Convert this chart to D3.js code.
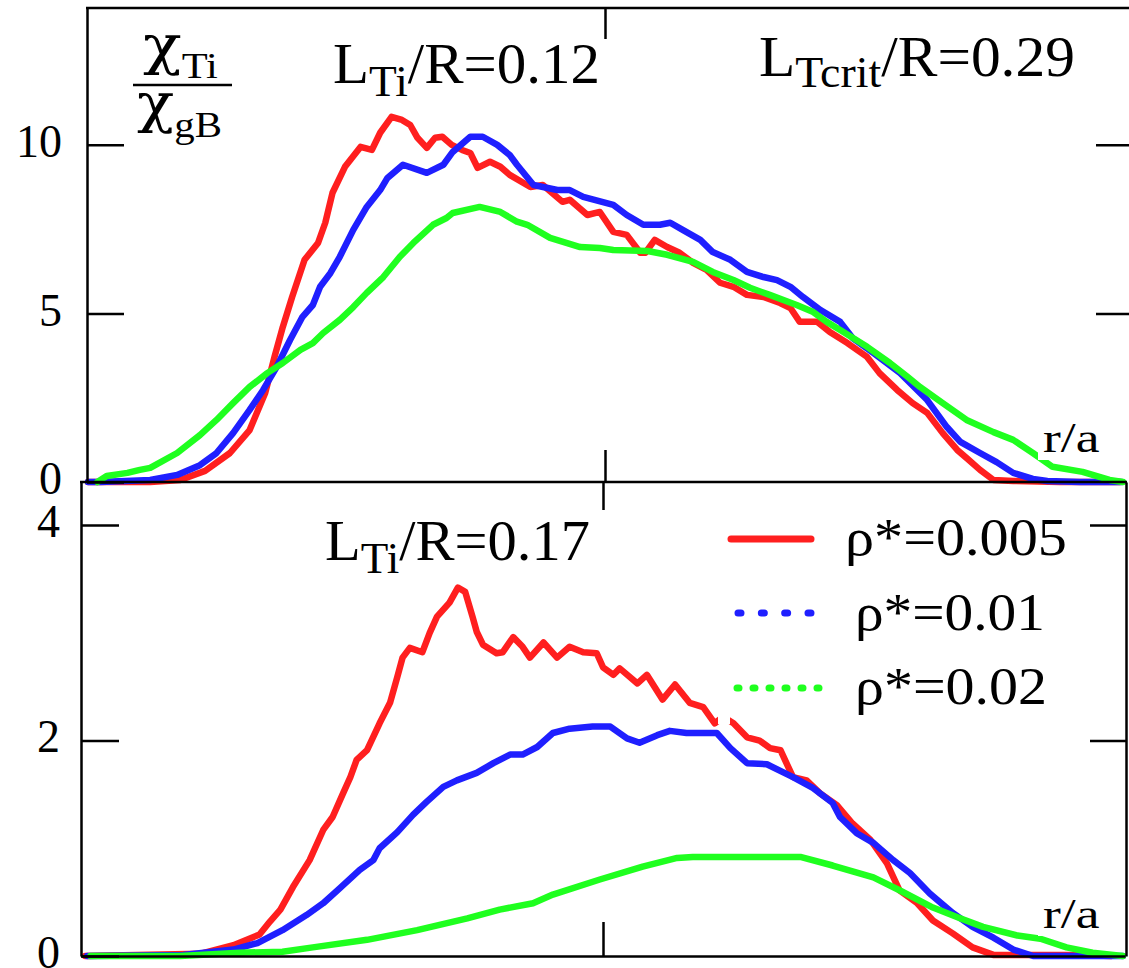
<!DOCTYPE html>
<html>
<head>
<meta charset="utf-8">
<script src="https://cdn.jsdelivr.net/npm/d3@7"></script>
<style>
  body { margin: 0; background: #fff; }
  text { font-family: "Liberation Serif", "Times New Roman", serif; fill: #000; }
</style>
</head>
<body>
<div id="chart"></div>
<script>
// ---- data: [r/a, chi_Ti/chi_gB] ----
// upper panel, L_Ti/R = 0.12
const topRed = [[0.001,0],[0.061,0],[0.090,0.06],[0.114,0.33],[0.138,0.86],[0.157,1.54],[0.172,2.64],[0.181,3.71],[0.189,4.60],[0.198,5.49],[0.210,6.59],[0.223,7.09],[0.230,7.69],[0.237,8.58],[0.249,9.35],[0.264,9.94],[0.275,9.85],[0.283,10.36],[0.294,10.83],[0.304,10.74],[0.312,10.59],[0.319,10.21],[0.328,9.91],[0.336,10.21],[0.343,10.24],[0.352,10.00],[0.362,9.85],[0.370,9.76],[0.377,9.32],[0.389,9.50],[0.399,9.35],[0.408,9.11],[0.428,8.75],[0.440,8.81],[0.459,8.31],[0.466,8.37],[0.483,7.92],[0.495,8.01],[0.508,7.42],[0.521,7.33],[0.534,6.80],[0.539,6.80],[0.548,7.18],[0.560,6.97],[0.572,6.80],[0.585,6.50],[0.598,6.29],[0.611,5.91],[0.624,5.79],[0.637,5.55],[0.653,5.49],[0.669,5.31],[0.679,5.16],[0.688,4.75],[0.705,4.75],[0.717,4.45],[0.734,4.12],[0.753,3.71],[0.765,3.23],[0.782,2.73],[0.797,2.34],[0.811,2.05],[0.826,1.45],[0.840,0.95],[0.849,0.71],[0.862,0.36],[0.875,0.06],[0.894,0.03],[0.939,0],[0.997,0]];
const topBlue = [[0.001,0],[0.013,0],[0.061,0.06],[0.087,0.21],[0.109,0.50],[0.125,0.86],[0.141,1.45],[0.157,2.14],[0.170,2.73],[0.183,3.41],[0.196,4.21],[0.208,4.90],[0.218,5.25],[0.225,5.79],[0.235,6.20],[0.244,6.68],[0.257,7.48],[0.270,8.16],[0.283,8.66],[0.290,9.02],[0.305,9.41],[0.328,9.17],[0.344,9.41],[0.353,9.79],[0.370,10.24],[0.382,10.24],[0.396,10.00],[0.408,9.70],[0.415,9.41],[0.431,8.81],[0.454,8.66],[0.466,8.66],[0.479,8.46],[0.508,8.22],[0.521,7.92],[0.537,7.63],[0.553,7.63],[0.563,7.69],[0.575,7.48],[0.592,7.18],[0.604,6.82],[0.621,6.59],[0.637,6.23],[0.653,6.08],[0.666,5.99],[0.679,5.79],[0.691,5.49],[0.708,5.10],[0.727,4.75],[0.739,4.27],[0.759,3.83],[0.785,3.23],[0.811,2.43],[0.830,1.63],[0.843,1.19],[0.862,0.86],[0.878,0.59],[0.894,0.27],[0.913,0.09],[0.927,0.03],[0.958,0],[0.999,0]];
const topGreen = [[0.010,0],[0.019,0.18],[0.039,0.27],[0.051,0.36],[0.061,0.42],[0.087,0.86],[0.109,1.39],[0.125,1.84],[0.141,2.34],[0.157,2.82],[0.174,3.23],[0.189,3.53],[0.206,3.92],[0.218,4.12],[0.228,4.42],[0.244,4.81],[0.257,5.19],[0.270,5.61],[0.286,6.08],[0.302,6.68],[0.315,7.09],[0.334,7.63],[0.347,7.83],[0.353,7.98],[0.379,8.16],[0.399,8.01],[0.415,7.72],[0.425,7.63],[0.447,7.24],[0.476,6.97],[0.495,6.94],[0.508,6.88],[0.541,6.85],[0.560,6.74],[0.585,6.53],[0.604,6.23],[0.624,5.99],[0.640,5.76],[0.659,5.55],[0.685,5.25],[0.701,5.04],[0.714,4.75],[0.727,4.51],[0.753,4.01],[0.775,3.53],[0.792,3.12],[0.804,2.82],[0.826,2.34],[0.849,1.84],[0.875,1.48],[0.894,1.25],[0.913,0.86],[0.932,0.45],[0.961,0.30],[0.987,0.06],[1.000,0]];

// lower panel, L_Ti/R = 0.17
const botRed = [[0.004,0],[0.114,0.02],[0.146,0.10],[0.171,0.20],[0.181,0.32],[0.191,0.43],[0.203,0.64],[0.219,0.89],[0.232,1.17],[0.241,1.29],[0.251,1.51],[0.258,1.66],[0.264,1.82],[0.274,1.91],[0.286,2.16],[0.296,2.35],[0.303,2.59],[0.308,2.77],[0.315,2.86],[0.327,2.82],[0.334,3.00],[0.341,3.15],[0.353,3.28],[0.361,3.42],[0.368,3.38],[0.375,3.15],[0.379,3.01],[0.385,2.89],[0.398,2.81],[0.404,2.82],[0.414,2.96],[0.423,2.87],[0.430,2.77],[0.443,2.91],[0.456,2.77],[0.468,2.87],[0.481,2.82],[0.494,2.81],[0.500,2.68],[0.510,2.61],[0.516,2.67],[0.533,2.53],[0.542,2.61],[0.557,2.38],[0.569,2.52],[0.583,2.35],[0.596,2.31],[0.607,2.16],[0.615,2.22],[0.625,2.16],[0.638,2.03],[0.650,2.00],[0.660,1.93],[0.670,1.91],[0.682,1.66],[0.695,1.63],[0.708,1.51],[0.724,1.40],[0.739,1.23],[0.756,1.08],[0.772,0.86],[0.784,0.61],[0.801,0.49],[0.816,0.33],[0.835,0.21],[0.854,0.08],[0.874,0.01],[0.960,0.01],[0.986,0]];
const botBlue = [[0.006,0],[0.098,0.01],[0.146,0.06],[0.169,0.12],[0.193,0.24],[0.216,0.38],[0.232,0.49],[0.248,0.63],[0.267,0.80],[0.280,0.89],[0.286,1.00],[0.303,1.15],[0.318,1.31],[0.331,1.43],[0.347,1.57],[0.360,1.63],[0.379,1.70],[0.395,1.79],[0.411,1.87],[0.423,1.87],[0.437,1.94],[0.452,2.07],[0.468,2.11],[0.490,2.13],[0.507,2.13],[0.523,2.02],[0.535,1.98],[0.552,2.05],[0.564,2.09],[0.580,2.07],[0.609,2.07],[0.622,1.93],[0.638,1.79],[0.657,1.78],[0.682,1.66],[0.701,1.56],[0.720,1.42],[0.727,1.29],[0.743,1.14],[0.759,1.05],[0.778,0.89],[0.794,0.77],[0.813,0.58],[0.835,0.40],[0.854,0.27],[0.874,0.17],[0.893,0.06],[0.912,0],[0.998,0]];
const botGreen = [[0.009,0],[0.095,0],[0.152,0.03],[0.193,0.04],[0.222,0.08],[0.274,0.15],[0.322,0.24],[0.370,0.35],[0.401,0.43],[0.433,0.49],[0.452,0.57],[0.497,0.71],[0.538,0.83],[0.571,0.91],[0.586,0.92],[0.689,0.92],[0.720,0.84],[0.759,0.73],[0.784,0.61],[0.816,0.45],[0.842,0.35],[0.864,0.27],[0.897,0.19],[0.919,0.16],[0.944,0.08],[0.969,0.03],[0.998,0]];

const topTicks = [0, 5, 10];
const botTicks = [0, 2, 4];
const legendLabels = ["ρ*=0.005", "ρ*=0.01", "ρ*=0.02"];
const colors = ["#ff1f1f", "#1f1fff", "#1fff1f"];

// ---- setup ----
const width = 1129, height = 968;
const svg = d3.select("#chart").append("svg")
    .attr("width", width)
    .attr("height", height);

const xTop = d3.scaleLinear().domain([0, 1]).range([87, 1123]);
const yTop = d3.scaleLinear().domain([0, 14.06]).range([482, 8]);
const xBot = d3.scaleLinear().domain([0, 1]).range([81, 1125]);
const yBot = d3.scaleLinear().domain([0, 4.4]).range([956, 482]);

// stretch a text horizontally so it spans a given width
function fit(sel, x0, w) {
    const bb = sel.node().getBBox();
    const s = w / bb.width;
    sel.attr("transform", `translate(${x0},0) scale(${s},1) translate(${-x0},0)`);
}

function styleAxis(g, fs) {
    g.selectAll("path, line").attr("stroke", "#000").attr("stroke-width", 2.5);
    g.selectAll("text").attr("font-size", fs).attr("font-family", "Liberation Serif").attr("fill", "#000");
}

// ---- curves ----
function drawCurves(series, x, y) {
    const line = d3.line().x(d => x(d[0])).y(d => y(d[1]));
    series.forEach((s, i) => {
        svg.append("path")
            .datum(s)
            .attr("fill", "none")
            .attr("stroke", colors[i])
            .attr("stroke-width", 6.5)
            .attr("stroke-linejoin", "round")
            .attr("stroke-linecap", "round")
            .attr("d", line);
    });
}
drawCurves([topRed, topBlue, topGreen], xTop, yTop);
drawCurves([botRed, botBlue, botGreen], xBot, yBot);

// small white break in the lower red curve, as in the original
svg.append("rect").attr("x", 718).attr("y", 698).attr("width", 12).attr("height", 26).attr("fill", "#fff");

// ---- axes / frames ----
// upper panel
svg.append("g").attr("transform", "translate(87,0)")
    .call(d3.axisLeft(yTop).tickValues(topTicks).tickSize(-37).tickSizeOuter(0).tickPadding(25).tickFormat(d3.format("d")))
    .call(g => styleAxis(g, 46))
    .call(g => g.selectAll("text").attr("dy", "0.26em"));
svg.append("g").attr("transform", "translate(1129,0)")
    .call(d3.axisRight(yTop).tickValues([5, 10]).tickSize(-33).tickFormat(""))
    .call(g => g.select(".domain").remove())
    .call(g => styleAxis(g, 46));
svg.append("g").attr("transform", "translate(0,8)")
    .call(d3.axisTop(xTop).tickValues([0.5]).tickSize(-31).tickFormat(""))
    .call(g => g.select(".domain").remove())
    .call(g => styleAxis(g, 46));
svg.append("g").attr("transform", "translate(0,482)")
    .call(d3.axisBottom(xTop).tickValues([0.5]).tickSize(-32).tickFormat(""))
    .call(g => g.select(".domain").remove())
    .call(g => styleAxis(g, 46));
svg.append("line").attr("x1", 86).attr("x2", 1129).attr("y1", 8).attr("y2", 8)
    .attr("stroke", "#000").attr("stroke-width", 2.5);

// lower panel
svg.append("g").attr("transform", "translate(81,0)")
    .call(d3.axisLeft(yBot).tickValues(botTicks).tickSize(-38).tickSizeOuter(0).tickPadding(21).tickFormat(d3.format("d")))
    .call(g => styleAxis(g, 46))
    .call(g => g.selectAll("text").attr("dy", "0.24em"));
svg.append("g").attr("transform", "translate(1126,0)")
    .call(d3.axisRight(yBot).tickValues([2, 4]).tickSize(-36).tickSizeOuter(0).tickFormat(""))
    .call(g => styleAxis(g, 46));
svg.append("g").attr("transform", "translate(0,956)")
    .call(d3.axisBottom(xBot).tickValues([0.5]).tickSize(-34).tickSizeOuter(0).tickFormat(""))
    .call(g => styleAxis(g, 46));
svg.append("g").attr("transform", "translate(0,482)")
    .call(d3.axisTop(xBot).tickValues([0.5]).tickSize(-28).tickFormat(""))
    .call(g => g.select(".domain").remove())
    .call(g => styleAxis(g, 46));
svg.append("line").attr("x1", 80).attr("x2", 1127).attr("y1", 482).attr("y2", 482)
    .attr("stroke", "#000").attr("stroke-width", 2.5);

// ---- r/a labels with white backing ----
[[420, 452], [896, 928]].forEach(([top, base]) => {
    svg.append("rect").attr("x", 1038).attr("y", top).attr("width", 68).attr("height", base - top + 8)
        .attr("fill", "#fff");
    const t = svg.append("text").attr("x", 1043).attr("y", base).attr("font-size", 42).text("r/a");
    fit(t, 1043, 57);
});

// ---- annotations ----
function subLabel(x, y, main, sub, rest, fs, sfs, dy, w, mainFont) {
    const t = svg.append("text").attr("x", x).attr("y", y).attr("font-size", fs);
    const m = t.append("tspan").text(main);
    if (mainFont) m.attr("font-family", mainFont);
    t.append("tspan").attr("font-size", sfs).attr("dy", dy).text(sub);
    if (rest) t.append("tspan").attr("dy", -dy).text(rest);
    fit(t, x, w);
    return t;
}
subLabel(333, 83, "L", "Ti", "/R=0.12", 57, 44, 13, 267);
subLabel(759, 76, "L", "Tcrit", "/R=0.29", 57, 44, 11, 316);
subLabel(325, 560, "L", "Ti", "/R=0.17", 57, 44, 13, 265);

// y label chi_Ti / chi_gB
subLabel(143, 64, "χ", "Ti", null, 54, 36, 14, 75, "DejaVu Serif");
subLabel(137, 122, "χ", "gB", null, 54, 36, 15, 85, "DejaVu Serif");
svg.append("line").attr("x1", 133).attr("x2", 232).attr("y1", 85).attr("y2", 85)
    .attr("stroke", "#000").attr("stroke-width", 2.5);

// ---- legend ----
const legendRows = [
    { y: 539, x1: 731, x2: 811, dash: null, tx: 845, ty: 555, tw: 222 },
    { y: 613, x1: 738, x2: 811, dash: "3 20.33", tx: 855, ty: 630, tw: 190 },
    { y: 688, x1: 737, x2: 819, dash: "2 14", tx: 855, ty: 704, tw: 192 }
];
legendRows.forEach((r, i) => {
    svg.append("line")
        .attr("x1", r.x1).attr("x2", r.x2).attr("y1", r.y).attr("y2", r.y)
        .attr("stroke", colors[i])
        .attr("stroke-width", 7)
        .attr("stroke-linecap", "round")
        .attr("stroke-dasharray", r.dash);
    const t = svg.append("text").attr("x", r.tx).attr("y", r.ty).attr("font-size", 52).text(legendLabels[i]);
    fit(t, r.tx, r.tw);
});
</script>
</body>
</html>
